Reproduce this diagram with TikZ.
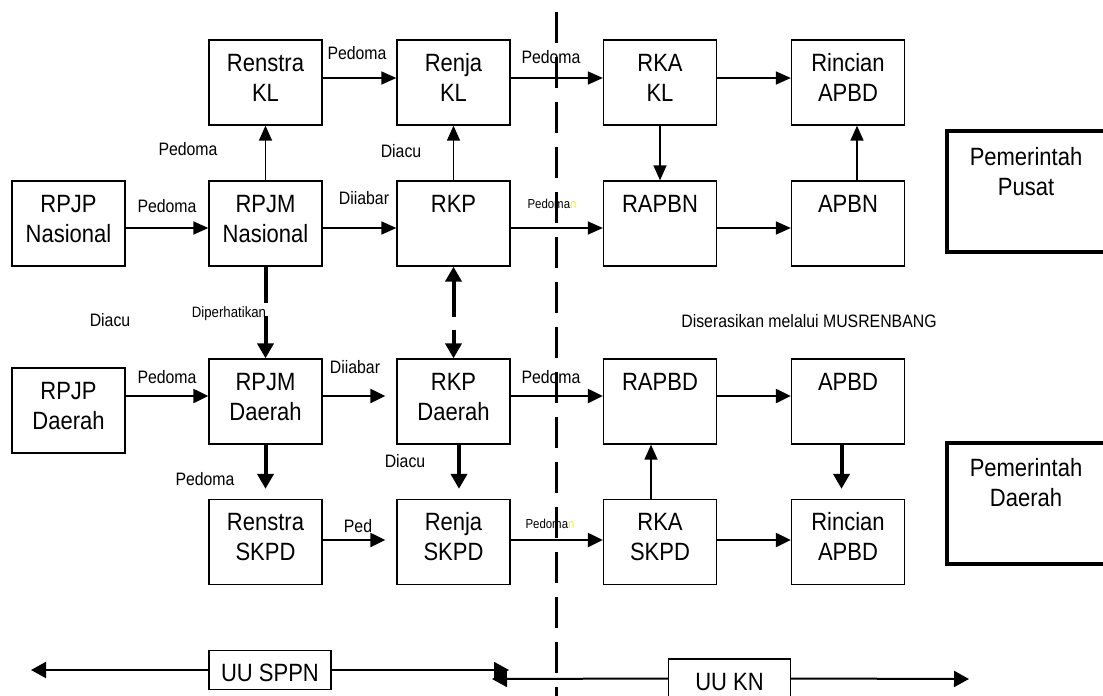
\documentclass[tikz,border=0pt]{standalone}
\usepackage{fontspec}
\setmainfont{Liberation Sans}[FakeStretch=0.88]
\usetikzlibrary{arrows.meta}

\begin{document}
\begin{tikzpicture}[x=1pt, y=-1pt,
	main/.style = {draw, line width=1.3pt, minimum width=113pt, minimum height=85pt, inner sep=0pt, text height=31pt, text depth=54pt, align=center, font=\fontsize{25}{30}\selectfont},
	main2/.style = {main, text height=61pt, text depth=24pt},
	uu/.style = {main, minimum width=122pt, minimum height=39pt, text height=31pt, text depth=8pt},
	pem/.style = {main, line width=4pt, minimum width=158pt, minimum height=121pt, text height=64pt, text depth=57pt},
	lbl/.style = {anchor=base, inner sep=0pt, font=\fontsize{18}{21}\selectfont},
	lblsm/.style = {lbl, font=\fontsize{13}{15}\selectfont},
	arr/.style = {line width=1.5pt, -{Triangle[length=15pt, width=13pt]}},
	arrb/.style = {line width=2.2pt, -{Triangle[length=15pt, width=14pt]}},
	thk/.style = {line width=4pt, -{Triangle[length=15pt, width=16pt]}},
	dsh/.style = {thk, dash pattern=on 36pt off 13pt},
	law/.style = {line width=2pt, -{Triangle[length=15pt, width=16pt]}}]
	\useasboundingbox (0,0) rectangle (1103,696);
	\node[main2] (renstrakl) at (265.5,82.5) {Renstra\\KL};
	\node[main2] (renjakl) at (453.5,82.5) {Renja\\KL};
	\node[main2] (rkakl) at (660,82.5) {RKA\\KL};
	\node[main2] (rincianp) at (848,82.5) {Rincian\\APBD};
	\node[main2] (rpjpn) at (68.5,223.5) {RPJP\\Nasional};
	\node[main2] (rpjmn) at (265.5,223.5) {RPJM\\Nasional};
	\node[main] (rkp) at (453.5,223.5) {RKP};
	\node[main] (rapbn) at (660,223.5) {RAPBN};
	\node[main] (apbn) at (848,223.5) {APBN};
	\node[main2] (rpjpd) at (68.5,410.5) {RPJP\\Daerah};
	\node[main2] (rpjmd) at (265.5,401.5) {RPJM\\Daerah};
	\node[main2] (rkpd) at (453.5,401.5) {RKP\\Daerah};
	\node[main] (rapbd) at (660,401.5) {RAPBD};
	\node[main] (apbd) at (848,401.5) {APBD};
	\node[main2] (renstras) at (265.5,542) {Renstra\\SKPD};
	\node[main2] (renjas) at (453.5,542) {Renja\\SKPD};
	\node[main2] (rkas) at (660,542) {RKA\\SKPD};
	\node[main2] (rinciand) at (848,542) {Rincian\\APBD};
	\node[pem] (pusat) at (1026,191.5) {Pemerintah\\Pusat};
	\node[pem] (daerah) at (1026,503) {Pemerintah\\Daerah};
	\node[uu] (sppn) at (270,670) {UU SPPN};
	\node[uu] (kn) at (729.5,678.5) {UU KN};
	\node[lbl] (l1) at (357,59) {Pedoma};
	\node[lbl] (l2) at (551,63) {Pedoma};
	\node[lbl] (l3) at (188,155) {Pedoma};
	\node[lbl] (l4) at (401,157) {Diacu};
	\node[lbl] (l5) at (167,212) {Pedoma};
	\node[lbl] (l6) at (364,204) {Diiabar};
	\node[lblsm] (l7) at (552,208) {Pedoma\textcolor{yellow}{n}};
	\node[lbl] (l8) at (110,326) {Diacu};
	\node[lbl, font=\fontsize{15}{18}\selectfont] (l9) at (229,317) {Diperhatikan};
	\node[lbl] (l10) at (809,327) {Diserasikan melalui MUSRENBANG};
	\node[lbl] (l11) at (167,383) {Pedoma};
	\node[lbl] (l12) at (355,373) {Diiabar};
	\node[lbl] (l13) at (551,383) {Pedoma};
	\node[lbl] (l14) at (205,485) {Pedoma};
	\node[lbl] (l15) at (405,467) {Diacu};
	\node[lbl] (l16) at (358,532) {Ped};
	\node[lblsm] (l17) at (550,528) {Pedoma\textcolor{yellow}{n}};
	\coordinate (h1) at (0,78);
	\coordinate (h2) at (0,228);
	\coordinate (h3) at (0,396);
	\coordinate (h4) at (0,540);
	\coordinate (cut1) at (556.5,12);
	\coordinate (cut2) at (556.5,700);
	\coordinate (sppnl) at (31,670);
	\coordinate (sppnr) at (509,670);
	\coordinate (knl) at (492,679);
	\coordinate (knr) at (969,679);
	\draw[arr] (renstrakl.east |- h1) -- (renjakl.west |- h1);
	\draw[arr] (renjakl.east |- h1) -- (rkakl.west |- h1);
	\draw[arr] (rkakl.east |- h1) -- (rincianp.west |- h1);
	\draw[arr] (rpjpn.east |- h2) -- (rpjmn.west |- h2);
	\draw[arr] (rpjmn.east |- h2) -- (rkp.west |- h2);
	\draw[arr] (rkp.east |- h2) -- (rapbn.west |- h2);
	\draw[arr] (rapbn.east |- h2) -- (apbn.west |- h2);
	\draw[arr] (rpjmn.north) -- (renstrakl.south);
	\draw[arr] (rkp.north) -- (renjakl.south);
	\draw[arr] (rkakl.south) -- (rapbn.north);
	\draw[arr] ([xshift=9pt]apbn.north) -- ([xshift=9pt]rincianp.south);
	\draw[dsh] (rpjmn.south) -- (rpjmd.north);
	\draw[dsh, {Triangle[length=15pt, width=16pt]}-{Triangle[length=15pt, width=16pt]}] (rkp.south) -- (rkpd.north);
	\draw[arrb] (rpjpd.east |- h3) -- (rpjmd.west |- h3);
	\draw[arrb, shorten >=11pt] (rpjmd.east |- h3) -- (rkpd.west |- h3);
	\draw[arrb] (rkpd.east |- h3) -- (rapbd.west |- h3);
	\draw[arrb] (rapbd.east |- h3) -- (apbd.west |- h3);
	\draw[thk, shorten >=10pt] (rpjmd.south) -- (renstras.north);
	\draw[thk, shorten >=10pt] ([xshift=5.5pt]rkpd.south) -- ([xshift=5.5pt]renjas.north);
	\draw[thk, shorten >=10pt] ([xshift=-6.5pt]apbd.south) -- ([xshift=-6.5pt]rinciand.north);
	\draw[arr] ([xshift=-9pt]rkas.north) -- ([xshift=-9pt]rapbd.south);
	\draw[arrb, shorten >=11pt] (renstras.east |- h4) -- (renjas.west |- h4);
	\draw[arrb] (renjas.east |- h4) -- (rkas.west |- h4);
	\draw[arrb] (rkas.east |- h4) -- (rinciand.west |- h4);
	\draw[law] (sppn.west) -- (sppnl);
	\draw[law] (sppn.east) -- (sppnr);
	\draw[law] (kn.west) -- (knl);
	\draw[law] (kn.east) -- (knr);
	\draw[line width=3.5pt, dash pattern=on 31pt off 14pt] (cut1) -- (cut2);
\end{tikzpicture}
\end{document}
